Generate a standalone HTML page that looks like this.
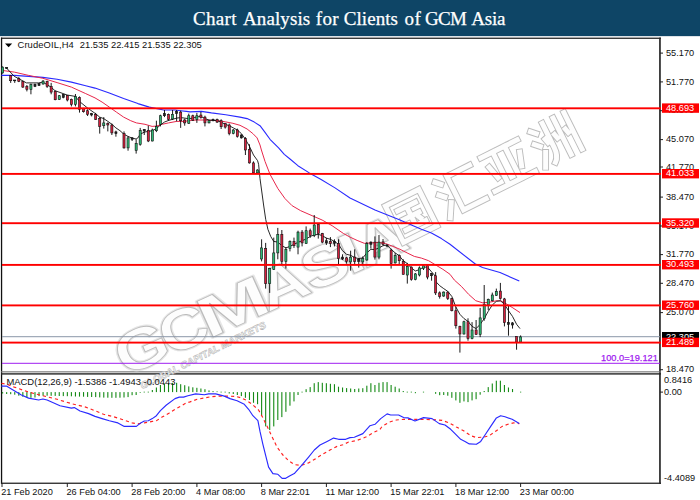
<!DOCTYPE html>
<html><head><meta charset="utf-8"><title>Chart Analysis for Clients of GCM Asia</title>
<style>
html,body{margin:0;padding:0;background:#fff;}
body{width:700px;height:500px;overflow:hidden;position:relative;font-family:"Liberation Sans",sans-serif;}
#hdr{position:absolute;left:0;top:0;width:700px;height:36px;background:#0e4566;color:#fff;font-family:"Liberation Serif",serif;font-size:19px;white-space:nowrap;line-height:38px;-webkit-text-stroke:0.25px #fff;}
svg{position:absolute;left:0;top:0;}
.ax{font-family:"Liberation Sans",sans-serif;font-size:9.2px;}
</style></head><body>
<div id="hdr"><span style="position:absolute;top:0;left:192.9px;letter-spacing:0.35px">Chart</span><span style="position:absolute;top:0;left:243.0px;letter-spacing:0.10px">Analysis</span><span style="position:absolute;top:0;left:315.8px;letter-spacing:0.37px">for</span><span style="position:absolute;top:0;left:343.7px;letter-spacing:0.08px">Clients</span><span style="position:absolute;top:0;left:404.5px;letter-spacing:0.60px">of</span><span style="position:absolute;top:0;left:424.9px;letter-spacing:-0.70px">GCM</span><span style="position:absolute;top:0;left:471.3px;letter-spacing:-0.20px">Asia</span></div>
<svg width="700" height="500" viewBox="0 0 700 500">
<!-- frame -->
<rect x="0" y="36" width="700" height="0.8" fill="#d5dde3"/>
<rect x="1" y="37.6" width="660" height="1.3" fill="#262626"/>
<rect x="0.9" y="37.6" width="1.3" height="446.3" fill="#111"/>
<rect x="659.1" y="37.6" width="1.7" height="446.3" fill="#2a2a2a"/>
<rect x="1" y="371.3" width="660" height="1.1" fill="#747474"/>
<rect x="1" y="373.2" width="660" height="1.4" fill="#262626"/>
<rect x="1" y="482.6" width="660" height="1.3" fill="#262626"/>
<!-- watermark -->
<g id="wm" font-family="Liberation Sans, sans-serif" font-weight="bold">
<g transform="translate(123,377.8) rotate(-24.3)">
<text transform="translate(5.0,0) scale(1.213,1)" x="-2.28" y="0" font-size="57" fill="none" stroke="#e6e6e6" stroke-width="3" stroke-linejoin="round">G</text>
<text transform="translate(53.5,0) scale(1.174,1)" x="-2.28" y="0" font-size="57" fill="none" stroke="#e6e6e6" stroke-width="3" stroke-linejoin="round">C</text>
<text transform="translate(99.0,0) scale(1.529,1)" x="-3.99" y="0" font-size="57" fill="none" stroke="#e6e6e6" stroke-width="3" stroke-linejoin="round">M</text>
<text transform="translate(161.0,0) scale(1.223,1)" x="-1.71" y="0" font-size="57" fill="none" stroke="#e6e6e6" stroke-width="3" stroke-linejoin="round">A</text>
<text transform="translate(209.0,0) scale(1.228,1)" x="-1.71" y="0" font-size="57" fill="none" stroke="#e6e6e6" stroke-width="3" stroke-linejoin="round">S</text>
<text transform="translate(254.0,0) scale(1.316,1)" x="-3.99" y="0" font-size="57" fill="none" stroke="#e6e6e6" stroke-width="3" stroke-linejoin="round">I</text>
<text transform="translate(268.0,0) scale(1.249,1)" x="-1.71" y="0" font-size="57" fill="none" stroke="#e6e6e6" stroke-width="3" stroke-linejoin="round">A</text>
<text transform="translate(5.0,0) scale(1.213,1)" x="-2.28" y="0" font-size="57" fill="#fdfdfd" stroke="#bcbcbc" stroke-width="0.85" stroke-linejoin="round">G</text>
<text transform="translate(53.5,0) scale(1.174,1)" x="-2.28" y="0" font-size="57" fill="#fdfdfd" stroke="#bcbcbc" stroke-width="0.85" stroke-linejoin="round">C</text>
<text transform="translate(99.0,0) scale(1.529,1)" x="-3.99" y="0" font-size="57" fill="#fdfdfd" stroke="#bcbcbc" stroke-width="0.85" stroke-linejoin="round">M</text>
<text transform="translate(161.0,0) scale(1.223,1)" x="-1.71" y="0" font-size="57" fill="#fdfdfd" stroke="#bcbcbc" stroke-width="0.85" stroke-linejoin="round">A</text>
<text transform="translate(209.0,0) scale(1.228,1)" x="-1.71" y="0" font-size="57" fill="#fdfdfd" stroke="#bcbcbc" stroke-width="0.85" stroke-linejoin="round">S</text>
<text transform="translate(254.0,0) scale(1.316,1)" x="-3.99" y="0" font-size="57" fill="#fdfdfd" stroke="#bcbcbc" stroke-width="0.85" stroke-linejoin="round">I</text>
<text transform="translate(268.0,0) scale(1.249,1)" x="-1.71" y="0" font-size="57" fill="#fdfdfd" stroke="#bcbcbc" stroke-width="0.85" stroke-linejoin="round">A</text>
</g>
<g transform="translate(123,377.8) rotate(-26.5)">
<text x="14.5" y="19" font-size="9.8" textLength="139" lengthAdjust="spacingAndGlyphs" fill="#fff" stroke="#b4b4b4" stroke-width="0.55" transform="skewX(-8)">GLOBAL CAPITAL MARKETS</text>
<g id="cjk" fill="none" stroke-linecap="square" stroke-linejoin="miter">
<g stroke="#bcbcbc" stroke-width="6.2"><g transform="translate(307,3) scale(1.1)"><path d="M4,-36 H38 V1 H4 Z M12,-27 H30 M13,-17.5 H29 M11,-8 H31 M21,-27 V-8 M27,-14 L28,-12"/></g>
<g transform="translate(361,1.7) scale(1.1)"><path d="M5,-34 L9,-30 M3,-22 L7,-18 M3,1 L10,-11 M17,-34 H40 M17,-34 V0 H40"/></g>
<g transform="translate(415,0.3) scale(1.1)"><path d="M3,-34 H40 M15,-34 V-1 M27,-34 V-1 M6,-23 L9,-11 M37,-23 L33,-11 M1,-1 H42"/></g>
<g transform="translate(470,-1) scale(1.1)"><path d="M4,-34 L8,-30 M2,-22 L6,-18 M2,1 L8,-11 M17,-36 V-12 Q17,-3 12,1 M28,-36 V1 M39,-36 V1 M13,-22 L14,-18 M22.5,-22 L23.5,-18 M33.5,-22 L34.5,-18"/></g></g>
<g stroke="#fdfdfd" stroke-width="4.5"><g transform="translate(307,3) scale(1.1)"><path d="M4,-36 H38 V1 H4 Z M12,-27 H30 M13,-17.5 H29 M11,-8 H31 M21,-27 V-8 M27,-14 L28,-12"/></g>
<g transform="translate(361,1.7) scale(1.1)"><path d="M5,-34 L9,-30 M3,-22 L7,-18 M3,1 L10,-11 M17,-34 H40 M17,-34 V0 H40"/></g>
<g transform="translate(415,0.3) scale(1.1)"><path d="M3,-34 H40 M15,-34 V-1 M27,-34 V-1 M6,-23 L9,-11 M37,-23 L33,-11 M1,-1 H42"/></g>
<g transform="translate(470,-1) scale(1.1)"><path d="M4,-34 L8,-30 M2,-22 L6,-18 M2,1 L8,-11 M17,-36 V-12 Q17,-3 12,1 M28,-36 V1 M39,-36 V1 M13,-22 L14,-18 M22.5,-22 L23.5,-18 M33.5,-22 L34.5,-18"/></g></g>
</g>
</g>
</g>
<!-- price line -->
<rect x="2" y="336.2" width="658" height="1" fill="#8a97a8"/>
<!-- fib -->
<rect x="2" y="362.8" width="658" height="1" fill="#a020f0"/>
<text x="601" y="361.3" class="ax" fill="#a020f0" stroke="#a020f0" stroke-width="0.25" style="font-size:9.25px">100.0=19.121</text>
<!-- MAs -->
<polyline points="1.4,75.4 14.3,75.4 28.6,76.4 42.9,77.4 57.1,79.3 71.4,82.1 85.7,85.7 95.0,88.1 109.3,92.9 123.6,98.6 137.9,103.6 149.3,107.1 163.6,110.0 175.0,110.0 180.7,110.7 186.4,111.4 190.0,111.9 201.4,111.4 211.4,112.9 225.7,114.7 240.0,117.1 247.1,118.6 254.3,122.1 260.0,125.7 264.3,131.4 270.0,139.3 278.6,147.9 284.3,154.3 290.0,159.0 297.9,165.7 309.3,172.9 320.7,179.3 335.0,187.9 350.0,198.0 375.0,210.0 400.0,220.0 411.4,225.0 421.4,229.3 431.4,232.9 441.4,238.6 450.0,244.3 475.0,263.8 482.5,267.5 500.0,272.5 519.3,281.1" fill="none" stroke="#2a2aff" stroke-width="1.1" stroke-linejoin="round"/>
<polyline points="1.4,70.3 14.3,72.1 28.6,75.4 42.9,78.3 57.1,82.6 71.4,87.1 85.7,93.6 95.0,97.9 102.1,102.1 109.3,107.1 116.4,112.1 123.6,117.1 130.7,120.7 136.4,122.9 145.0,124.3 152.1,126.4 156.4,126.1 162.1,124.3 168.6,122.9 176.6,121.4 184.7,121.4 190.0,120.4 197.1,120.0 204.3,120.0 211.4,120.4 218.6,120.7 225.7,121.9 232.9,123.3 240.0,125.3 247.1,129.0 252.9,133.6 257.1,137.9 260.0,145.0 261.4,150.0 265.0,161.4 270.0,174.3 277.9,188.6 285.0,198.6 292.1,205.7 300.7,210.7 312.1,215.7 322.1,220.0 332.1,225.7 343.6,233.6 350.0,237.1 357.1,240.4 364.3,243.3 371.4,242.9 378.6,242.4 385.7,243.6 392.9,246.4 400.0,249.3 407.1,252.9 414.3,256.4 421.4,258.1 428.6,260.7 435.7,265.0 442.9,269.3 450.0,274.3 454.3,280.0 461.4,286.4 468.6,294.3 475.7,300.7 482.9,302.9 490.0,302.1 497.1,300.7 501.4,301.1 507.1,304.3 512.9,307.9 520.0,312.6" fill="none" stroke="#e8274b" stroke-width="1" stroke-linejoin="round"/>
<polyline points="6.4,67.9 14.3,76.4 18.6,78.6 26.4,82.9 38.6,82.9 42.9,82.1 51.0,87.1 55.0,90.7 67.1,95.0 75.3,96.4 79.4,101.4 87.4,107.9 95.4,113.6 99.7,117.1 103.7,118.6 107.9,121.4 111.9,124.3 115.9,127.9 120.0,130.7 124.0,134.3 128.0,136.4 132.1,138.1 136.1,139.0 137.9,137.9 140.1,134.3 144.3,132.1 148.3,131.4 152.3,130.7 156.4,128.6 160.4,125.0 164.4,122.1 168.6,120.4 172.6,119.3 176.6,118.1 180.7,117.6 184.7,118.1 188.7,118.7 192.9,118.1 196.9,116.9 200.9,116.4 205.0,118.6 209.0,120.0 217.1,120.7 221.1,122.1 225.2,124.3 229.2,125.7 233.3,127.9 237.3,130.0 241.4,133.6 245.4,139.3 249.5,146.4 253.5,155.0 257.6,160.7 258.6,164.3 260.0,178.6 263.6,205.0 265.7,219.3 267.9,229.3 270.7,236.4 273.7,241.4 277.8,242.1 281.8,245.7 285.9,247.9 289.9,246.4 294.0,244.3 298.0,242.4 302.1,240.7 306.1,239.0 310.2,236.4 314.2,235.0 318.3,234.3 322.3,235.7 326.4,238.1 330.4,239.3 334.4,241.4 338.5,244.3 342.5,250.7 346.6,254.3 350.6,255.3 354.7,257.6 358.7,258.6 362.8,257.9 366.8,252.9 370.9,249.3 374.9,249.6 379.0,247.9 383.0,245.7 386.9,245.0 391.1,249.3 395.2,252.9 399.2,255.7 403.3,260.7 407.3,263.6 411.3,267.9 415.4,271.0 419.4,269.6 423.5,267.1 427.5,267.1 431.6,271.9 435.6,276.4 435.6,281.4 439.7,285.7 443.7,288.6 447.8,291.4 451.8,296.4 455.9,307.1 459.9,314.3 464.0,318.6 468.0,321.4 472.1,326.4 476.1,328.6 480.2,324.3 484.2,318.6 488.2,311.4 492.3,305.0 496.3,301.4 500.4,300.7 504.4,304.3 508.5,310.7 512.5,316.4 516.6,324.3 520.0,328.6" fill="none" stroke="#111" stroke-width="0.9" stroke-linejoin="round"/>
<!-- candles -->
<line x1="2.60" x2="2.60" y1="66.4" y2="73.6" stroke="#000" stroke-width="0.9"/>
<rect x="1.55" y="67.1" width="2.1" height="5.8" fill="#2db874" stroke="#111" stroke-width="0.6"/>
<line x1="6.65" x2="6.65" y1="67.2" y2="68.8" stroke="#000" stroke-width="0.9"/>
<rect x="5.60" y="67.6" width="2.1" height="0.8" fill="#222" stroke="#111" stroke-width="0.6"/>
<line x1="10.69" x2="10.69" y1="75.0" y2="82.9" stroke="#000" stroke-width="0.9"/>
<rect x="9.64" y="75.7" width="2.1" height="5.0" fill="#d41f3d" stroke="#111" stroke-width="0.6"/>
<line x1="14.74" x2="14.74" y1="80.0" y2="82.9" stroke="#000" stroke-width="0.9"/>
<rect x="13.69" y="80.0" width="2.1" height="0.8" fill="#222" stroke="#111" stroke-width="0.6"/>
<line x1="18.79" x2="18.79" y1="77.1" y2="82.1" stroke="#000" stroke-width="0.9"/>
<rect x="17.74" y="78.6" width="2.1" height="2.8" fill="#d41f3d" stroke="#111" stroke-width="0.6"/>
<line x1="22.84" x2="22.84" y1="80.7" y2="87.9" stroke="#000" stroke-width="0.9"/>
<rect x="21.79" y="81.4" width="2.1" height="5.7" fill="#d41f3d" stroke="#111" stroke-width="0.6"/>
<line x1="26.88" x2="26.88" y1="85.0" y2="91.4" stroke="#000" stroke-width="0.9"/>
<rect x="25.83" y="86.4" width="2.1" height="2.9" fill="#d41f3d" stroke="#111" stroke-width="0.6"/>
<line x1="30.93" x2="30.93" y1="83.6" y2="94.3" stroke="#000" stroke-width="0.9"/>
<rect x="29.88" y="84.3" width="2.1" height="5.0" fill="#2db874" stroke="#111" stroke-width="0.6"/>
<line x1="34.98" x2="34.98" y1="83.6" y2="87.1" stroke="#000" stroke-width="0.9"/>
<rect x="33.93" y="84.3" width="2.1" height="2.1" fill="#222" stroke="#111" stroke-width="0.6"/>
<line x1="39.02" x2="39.02" y1="83.0" y2="86.0" stroke="#000" stroke-width="0.9"/>
<rect x="37.97" y="83.6" width="2.1" height="1.8" fill="#222" stroke="#111" stroke-width="0.6"/>
<line x1="43.07" x2="43.07" y1="80.0" y2="84.6" stroke="#000" stroke-width="0.9"/>
<rect x="42.02" y="81.1" width="2.1" height="2.9" fill="#2db874" stroke="#111" stroke-width="0.6"/>
<line x1="47.12" x2="47.12" y1="80.7" y2="87.9" stroke="#000" stroke-width="0.9"/>
<rect x="46.07" y="81.4" width="2.1" height="5.0" fill="#d41f3d" stroke="#111" stroke-width="0.6"/>
<line x1="51.16" x2="51.16" y1="82.9" y2="94.3" stroke="#000" stroke-width="0.9"/>
<rect x="50.11" y="86.4" width="2.1" height="5.7" fill="#d41f3d" stroke="#111" stroke-width="0.6"/>
<line x1="55.21" x2="55.21" y1="90.7" y2="100.3" stroke="#000" stroke-width="0.9"/>
<rect x="54.16" y="91.4" width="2.1" height="8.3" fill="#d41f3d" stroke="#111" stroke-width="0.6"/>
<line x1="59.26" x2="59.26" y1="95.0" y2="100.0" stroke="#000" stroke-width="0.9"/>
<rect x="58.21" y="95.7" width="2.1" height="3.6" fill="#2db874" stroke="#111" stroke-width="0.6"/>
<line x1="63.30" x2="63.30" y1="94.0" y2="98.3" stroke="#000" stroke-width="0.9"/>
<rect x="62.26" y="94.3" width="2.1" height="3.1" fill="#222" stroke="#111" stroke-width="0.6"/>
<line x1="67.35" x2="67.35" y1="95.0" y2="101.4" stroke="#000" stroke-width="0.9"/>
<rect x="66.30" y="95.4" width="2.1" height="4.6" fill="#d41f3d" stroke="#111" stroke-width="0.6"/>
<line x1="71.40" x2="71.40" y1="98.6" y2="106.4" stroke="#000" stroke-width="0.9"/>
<rect x="70.35" y="99.3" width="2.1" height="5.0" fill="#d41f3d" stroke="#111" stroke-width="0.6"/>
<line x1="75.45" x2="75.45" y1="94.0" y2="106.4" stroke="#000" stroke-width="0.9"/>
<rect x="74.40" y="96.4" width="2.1" height="7.9" fill="#2db874" stroke="#111" stroke-width="0.6"/>
<line x1="79.49" x2="79.49" y1="96.4" y2="112.6" stroke="#000" stroke-width="0.9"/>
<rect x="78.44" y="97.4" width="2.1" height="11.9" fill="#d41f3d" stroke="#111" stroke-width="0.6"/>
<line x1="83.54" x2="83.54" y1="107.9" y2="112.6" stroke="#000" stroke-width="0.9"/>
<rect x="82.49" y="108.6" width="2.1" height="3.1" fill="#d41f3d" stroke="#111" stroke-width="0.6"/>
<line x1="87.59" x2="87.59" y1="109.3" y2="116.0" stroke="#000" stroke-width="0.9"/>
<rect x="86.54" y="110.7" width="2.1" height="3.6" fill="#d41f3d" stroke="#111" stroke-width="0.6"/>
<line x1="91.63" x2="91.63" y1="112.9" y2="116.4" stroke="#000" stroke-width="0.9"/>
<rect x="90.58" y="113.6" width="2.1" height="1.4" fill="#222" stroke="#111" stroke-width="0.6"/>
<line x1="95.68" x2="95.68" y1="112.9" y2="120.0" stroke="#000" stroke-width="0.9"/>
<rect x="94.63" y="114.3" width="2.1" height="5.0" fill="#d41f3d" stroke="#111" stroke-width="0.6"/>
<line x1="99.73" x2="99.73" y1="117.1" y2="133.6" stroke="#000" stroke-width="0.9"/>
<rect x="98.68" y="118.6" width="2.1" height="7.8" fill="#d41f3d" stroke="#111" stroke-width="0.6"/>
<line x1="103.77" x2="103.77" y1="117.1" y2="128.6" stroke="#000" stroke-width="0.9"/>
<rect x="102.72" y="122.9" width="2.1" height="2.8" fill="#2db874" stroke="#111" stroke-width="0.6"/>
<line x1="107.82" x2="107.82" y1="122.4" y2="131.4" stroke="#000" stroke-width="0.9"/>
<rect x="106.77" y="123.3" width="2.1" height="1.7" fill="#d41f3d" stroke="#111" stroke-width="0.6"/>
<line x1="111.87" x2="111.87" y1="123.6" y2="135.0" stroke="#000" stroke-width="0.9"/>
<rect x="110.82" y="125.0" width="2.1" height="7.9" fill="#d41f3d" stroke="#111" stroke-width="0.6"/>
<line x1="115.92" x2="115.92" y1="130.7" y2="136.7" stroke="#000" stroke-width="0.9"/>
<rect x="114.87" y="131.9" width="2.1" height="1.7" fill="#222" stroke="#111" stroke-width="0.6"/>
<line x1="124.01" x2="124.01" y1="131.4" y2="148.6" stroke="#000" stroke-width="0.9"/>
<rect x="122.96" y="133.6" width="2.1" height="14.3" fill="#d41f3d" stroke="#111" stroke-width="0.6"/>
<line x1="128.06" x2="128.06" y1="136.4" y2="150.7" stroke="#000" stroke-width="0.9"/>
<rect x="127.01" y="137.9" width="2.1" height="10.0" fill="#2db874" stroke="#111" stroke-width="0.6"/>
<line x1="132.10" x2="132.10" y1="137.1" y2="141.0" stroke="#000" stroke-width="0.9"/>
<rect x="131.05" y="137.9" width="2.1" height="1.4" fill="#222" stroke="#111" stroke-width="0.6"/>
<line x1="136.15" x2="136.15" y1="139.3" y2="153.6" stroke="#000" stroke-width="0.9"/>
<rect x="135.10" y="143.3" width="2.1" height="7.1" fill="#2db874" stroke="#111" stroke-width="0.6"/>
<line x1="140.20" x2="140.20" y1="127.9" y2="145.7" stroke="#000" stroke-width="0.9"/>
<rect x="139.15" y="130.4" width="2.1" height="13.9" fill="#2db874" stroke="#111" stroke-width="0.6"/>
<line x1="144.24" x2="144.24" y1="129.0" y2="135.0" stroke="#000" stroke-width="0.9"/>
<rect x="143.19" y="129.3" width="2.1" height="1.7" fill="#222" stroke="#111" stroke-width="0.6"/>
<line x1="148.29" x2="148.29" y1="125.7" y2="142.1" stroke="#000" stroke-width="0.9"/>
<rect x="147.24" y="130.4" width="2.1" height="10.6" fill="#d41f3d" stroke="#111" stroke-width="0.6"/>
<line x1="152.34" x2="152.34" y1="128.6" y2="141.4" stroke="#000" stroke-width="0.9"/>
<rect x="151.29" y="130.0" width="2.1" height="11.0" fill="#2db874" stroke="#111" stroke-width="0.6"/>
<line x1="156.39" x2="156.39" y1="120.7" y2="132.1" stroke="#000" stroke-width="0.9"/>
<rect x="155.34" y="126.4" width="2.1" height="4.3" fill="#2db874" stroke="#111" stroke-width="0.6"/>
<line x1="160.43" x2="160.43" y1="114.7" y2="126.4" stroke="#000" stroke-width="0.9"/>
<rect x="159.38" y="115.7" width="2.1" height="8.6" fill="#2db874" stroke="#111" stroke-width="0.6"/>
<line x1="164.48" x2="164.48" y1="110.0" y2="117.1" stroke="#000" stroke-width="0.9"/>
<rect x="163.43" y="113.6" width="2.1" height="2.1" fill="#222" stroke="#111" stroke-width="0.6"/>
<line x1="168.53" x2="168.53" y1="113.6" y2="120.7" stroke="#000" stroke-width="0.9"/>
<rect x="167.48" y="114.3" width="2.1" height="5.0" fill="#d41f3d" stroke="#111" stroke-width="0.6"/>
<line x1="172.57" x2="172.57" y1="110.0" y2="120.0" stroke="#000" stroke-width="0.9"/>
<rect x="171.52" y="114.3" width="2.1" height="4.7" fill="#2db874" stroke="#111" stroke-width="0.6"/>
<line x1="176.62" x2="176.62" y1="110.0" y2="121.4" stroke="#000" stroke-width="0.9"/>
<rect x="175.57" y="111.4" width="2.1" height="2.2" fill="#222" stroke="#111" stroke-width="0.6"/>
<line x1="180.67" x2="180.67" y1="110.7" y2="127.9" stroke="#000" stroke-width="0.9"/>
<rect x="179.62" y="112.1" width="2.1" height="8.6" fill="#d41f3d" stroke="#111" stroke-width="0.6"/>
<line x1="184.71" x2="184.71" y1="118.6" y2="125.7" stroke="#000" stroke-width="0.9"/>
<rect x="183.66" y="120.0" width="2.1" height="2.9" fill="#d41f3d" stroke="#111" stroke-width="0.6"/>
<line x1="188.76" x2="188.76" y1="113.6" y2="123.9" stroke="#000" stroke-width="0.9"/>
<rect x="187.71" y="115.7" width="2.1" height="7.6" fill="#2db874" stroke="#111" stroke-width="0.6"/>
<line x1="192.81" x2="192.81" y1="114.7" y2="121.0" stroke="#000" stroke-width="0.9"/>
<rect x="191.76" y="115.7" width="2.1" height="4.7" fill="#d41f3d" stroke="#111" stroke-width="0.6"/>
<line x1="196.86" x2="196.86" y1="112.9" y2="122.9" stroke="#000" stroke-width="0.9"/>
<rect x="195.81" y="115.7" width="2.1" height="3.6" fill="#2db874" stroke="#111" stroke-width="0.6"/>
<line x1="200.90" x2="200.90" y1="111.9" y2="118.6" stroke="#000" stroke-width="0.9"/>
<rect x="199.85" y="115.0" width="2.1" height="2.6" fill="#d41f3d" stroke="#111" stroke-width="0.6"/>
<line x1="204.95" x2="204.95" y1="115.7" y2="126.4" stroke="#000" stroke-width="0.9"/>
<rect x="203.90" y="117.1" width="2.1" height="5.8" fill="#d41f3d" stroke="#111" stroke-width="0.6"/>
<line x1="209.00" x2="209.00" y1="120.4" y2="123.3" stroke="#000" stroke-width="0.9"/>
<rect x="207.95" y="120.7" width="2.1" height="2.2" fill="#2db874" stroke="#111" stroke-width="0.6"/>
<line x1="213.04" x2="213.04" y1="118.6" y2="121.4" stroke="#000" stroke-width="0.9"/>
<rect x="211.99" y="119.3" width="2.1" height="1.4" fill="#222" stroke="#111" stroke-width="0.6"/>
<line x1="217.09" x2="217.09" y1="118.6" y2="122.9" stroke="#000" stroke-width="0.9"/>
<rect x="216.04" y="119.6" width="2.1" height="2.5" fill="#d41f3d" stroke="#111" stroke-width="0.6"/>
<line x1="221.14" x2="221.14" y1="119.3" y2="129.0" stroke="#000" stroke-width="0.9"/>
<rect x="220.09" y="120.7" width="2.1" height="6.0" fill="#d41f3d" stroke="#111" stroke-width="0.6"/>
<line x1="225.18" x2="225.18" y1="122.9" y2="128.6" stroke="#000" stroke-width="0.9"/>
<rect x="224.13" y="123.6" width="2.1" height="3.5" fill="#d41f3d" stroke="#111" stroke-width="0.6"/>
<line x1="229.23" x2="229.23" y1="123.6" y2="135.3" stroke="#000" stroke-width="0.9"/>
<rect x="228.18" y="125.0" width="2.1" height="8.6" fill="#d41f3d" stroke="#111" stroke-width="0.6"/>
<line x1="233.28" x2="233.28" y1="129.0" y2="134.3" stroke="#000" stroke-width="0.9"/>
<rect x="232.23" y="130.0" width="2.1" height="3.3" fill="#2db874" stroke="#111" stroke-width="0.6"/>
<line x1="237.33" x2="237.33" y1="128.6" y2="137.6" stroke="#000" stroke-width="0.9"/>
<rect x="236.28" y="130.0" width="2.1" height="6.4" fill="#d41f3d" stroke="#111" stroke-width="0.6"/>
<line x1="241.37" x2="241.37" y1="134.3" y2="138.6" stroke="#000" stroke-width="0.9"/>
<rect x="240.32" y="135.0" width="2.1" height="2.9" fill="#222" stroke="#111" stroke-width="0.6"/>
<line x1="245.42" x2="245.42" y1="137.1" y2="155.0" stroke="#000" stroke-width="0.9"/>
<rect x="244.37" y="138.6" width="2.1" height="11.4" fill="#d41f3d" stroke="#111" stroke-width="0.6"/>
<line x1="249.47" x2="249.47" y1="144.3" y2="163.6" stroke="#000" stroke-width="0.9"/>
<rect x="248.42" y="149.3" width="2.1" height="13.6" fill="#d41f3d" stroke="#111" stroke-width="0.6"/>
<line x1="253.51" x2="253.51" y1="161.4" y2="173.6" stroke="#000" stroke-width="0.9"/>
<rect x="252.46" y="162.9" width="2.1" height="10.0" fill="#d41f3d" stroke="#111" stroke-width="0.6"/>
<line x1="257.56" x2="257.56" y1="169.3" y2="173.6" stroke="#000" stroke-width="0.9"/>
<rect x="256.51" y="170.0" width="2.1" height="2.9" fill="#2db874" stroke="#111" stroke-width="0.6"/>
<line x1="261.61" x2="261.61" y1="239.3" y2="261.4" stroke="#000" stroke-width="0.9"/>
<rect x="260.56" y="247.9" width="2.1" height="11.1" fill="#2db874" stroke="#111" stroke-width="0.6"/>
<line x1="265.66" x2="265.66" y1="242.9" y2="288.6" stroke="#000" stroke-width="0.9"/>
<rect x="264.61" y="248.6" width="2.1" height="35.0" fill="#d41f3d" stroke="#111" stroke-width="0.6"/>
<line x1="269.70" x2="269.70" y1="267.9" y2="292.9" stroke="#000" stroke-width="0.9"/>
<rect x="268.65" y="268.6" width="2.1" height="15.0" fill="#2db874" stroke="#111" stroke-width="0.6"/>
<line x1="273.75" x2="273.75" y1="237.6" y2="270.0" stroke="#000" stroke-width="0.9"/>
<rect x="272.70" y="252.9" width="2.1" height="16.4" fill="#2db874" stroke="#111" stroke-width="0.6"/>
<line x1="277.80" x2="277.80" y1="227.9" y2="259.3" stroke="#000" stroke-width="0.9"/>
<rect x="276.75" y="234.3" width="2.1" height="18.6" fill="#2db874" stroke="#111" stroke-width="0.6"/>
<line x1="281.84" x2="281.84" y1="230.0" y2="264.3" stroke="#000" stroke-width="0.9"/>
<rect x="280.79" y="234.3" width="2.1" height="27.1" fill="#d41f3d" stroke="#111" stroke-width="0.6"/>
<line x1="285.89" x2="285.89" y1="247.1" y2="268.6" stroke="#000" stroke-width="0.9"/>
<rect x="284.84" y="249.3" width="2.1" height="12.1" fill="#2db874" stroke="#111" stroke-width="0.6"/>
<line x1="289.94" x2="289.94" y1="240.4" y2="251.4" stroke="#000" stroke-width="0.9"/>
<rect x="288.89" y="241.4" width="2.1" height="7.2" fill="#2db874" stroke="#111" stroke-width="0.6"/>
<line x1="293.98" x2="293.98" y1="237.6" y2="247.9" stroke="#000" stroke-width="0.9"/>
<rect x="292.93" y="241.4" width="2.1" height="4.3" fill="#d41f3d" stroke="#111" stroke-width="0.6"/>
<line x1="298.03" x2="298.03" y1="230.7" y2="254.3" stroke="#000" stroke-width="0.9"/>
<rect x="296.98" y="232.1" width="2.1" height="15.0" fill="#2db874" stroke="#111" stroke-width="0.6"/>
<line x1="302.08" x2="302.08" y1="230.0" y2="246.4" stroke="#000" stroke-width="0.9"/>
<rect x="301.03" y="232.1" width="2.1" height="10.8" fill="#d41f3d" stroke="#111" stroke-width="0.6"/>
<line x1="306.12" x2="306.12" y1="226.4" y2="243.9" stroke="#000" stroke-width="0.9"/>
<rect x="305.07" y="230.7" width="2.1" height="12.9" fill="#2db874" stroke="#111" stroke-width="0.6"/>
<line x1="310.17" x2="310.17" y1="228.6" y2="237.9" stroke="#000" stroke-width="0.9"/>
<rect x="309.12" y="230.7" width="2.1" height="4.6" fill="#d41f3d" stroke="#111" stroke-width="0.6"/>
<line x1="314.22" x2="314.22" y1="215.0" y2="237.1" stroke="#000" stroke-width="0.9"/>
<rect x="313.17" y="225.0" width="2.1" height="10.3" fill="#2db874" stroke="#111" stroke-width="0.6"/>
<line x1="318.27" x2="318.27" y1="223.6" y2="238.6" stroke="#000" stroke-width="0.9"/>
<rect x="317.22" y="224.3" width="2.1" height="9.3" fill="#d41f3d" stroke="#111" stroke-width="0.6"/>
<line x1="322.31" x2="322.31" y1="232.9" y2="243.3" stroke="#000" stroke-width="0.9"/>
<rect x="321.26" y="233.6" width="2.1" height="8.5" fill="#d41f3d" stroke="#111" stroke-width="0.6"/>
<line x1="326.36" x2="326.36" y1="237.9" y2="245.0" stroke="#000" stroke-width="0.9"/>
<rect x="325.31" y="240.7" width="2.1" height="2.2" fill="#222" stroke="#111" stroke-width="0.6"/>
<line x1="330.41" x2="330.41" y1="237.1" y2="247.1" stroke="#000" stroke-width="0.9"/>
<rect x="329.36" y="241.4" width="2.1" height="2.2" fill="#d41f3d" stroke="#111" stroke-width="0.6"/>
<line x1="334.45" x2="334.45" y1="239.3" y2="246.4" stroke="#000" stroke-width="0.9"/>
<rect x="333.40" y="241.4" width="2.1" height="1.9" fill="#222" stroke="#111" stroke-width="0.6"/>
<line x1="338.50" x2="338.50" y1="239.3" y2="264.3" stroke="#000" stroke-width="0.9"/>
<rect x="337.45" y="243.3" width="2.1" height="15.3" fill="#d41f3d" stroke="#111" stroke-width="0.6"/>
<line x1="342.55" x2="342.55" y1="254.3" y2="260.0" stroke="#000" stroke-width="0.9"/>
<rect x="341.50" y="257.1" width="2.1" height="1.9" fill="#222" stroke="#111" stroke-width="0.6"/>
<line x1="346.59" x2="346.59" y1="257.1" y2="263.6" stroke="#000" stroke-width="0.9"/>
<rect x="345.54" y="257.9" width="2.1" height="3.5" fill="#d41f3d" stroke="#111" stroke-width="0.6"/>
<line x1="350.64" x2="350.64" y1="250.7" y2="270.7" stroke="#000" stroke-width="0.9"/>
<rect x="349.59" y="257.1" width="2.1" height="4.8" fill="#2db874" stroke="#111" stroke-width="0.6"/>
<line x1="354.69" x2="354.69" y1="249.3" y2="265.0" stroke="#000" stroke-width="0.9"/>
<rect x="353.64" y="257.1" width="2.1" height="4.3" fill="#d41f3d" stroke="#111" stroke-width="0.6"/>
<line x1="358.74" x2="358.74" y1="258.1" y2="267.6" stroke="#000" stroke-width="0.9"/>
<rect x="357.69" y="259.3" width="2.1" height="2.1" fill="#222" stroke="#111" stroke-width="0.6"/>
<line x1="362.78" x2="362.78" y1="256.4" y2="264.3" stroke="#000" stroke-width="0.9"/>
<rect x="361.73" y="258.6" width="2.1" height="3.3" fill="#2db874" stroke="#111" stroke-width="0.6"/>
<line x1="366.83" x2="366.83" y1="242.1" y2="260.7" stroke="#000" stroke-width="0.9"/>
<rect x="365.78" y="243.6" width="2.1" height="16.4" fill="#2db874" stroke="#111" stroke-width="0.6"/>
<line x1="370.88" x2="370.88" y1="241.4" y2="248.6" stroke="#000" stroke-width="0.9"/>
<rect x="369.83" y="242.1" width="2.1" height="2.2" fill="#222" stroke="#111" stroke-width="0.6"/>
<line x1="374.92" x2="374.92" y1="236.4" y2="259.6" stroke="#000" stroke-width="0.9"/>
<rect x="373.87" y="242.1" width="2.1" height="15.0" fill="#d41f3d" stroke="#111" stroke-width="0.6"/>
<line x1="378.97" x2="378.97" y1="235.0" y2="259.3" stroke="#000" stroke-width="0.9"/>
<rect x="377.92" y="242.1" width="2.1" height="15.0" fill="#2db874" stroke="#111" stroke-width="0.6"/>
<line x1="383.02" x2="383.02" y1="239.0" y2="245.3" stroke="#000" stroke-width="0.9"/>
<rect x="381.97" y="241.9" width="2.1" height="2.4" fill="#d41f3d" stroke="#111" stroke-width="0.6"/>
<line x1="387.06" x2="387.06" y1="244.3" y2="247.0" stroke="#000" stroke-width="0.9"/>
<rect x="386.01" y="245.0" width="2.1" height="1.1" fill="#222" stroke="#111" stroke-width="0.6"/>
<line x1="391.11" x2="391.11" y1="248.6" y2="268.6" stroke="#000" stroke-width="0.9"/>
<rect x="390.06" y="250.0" width="2.1" height="13.6" fill="#d41f3d" stroke="#111" stroke-width="0.6"/>
<line x1="395.16" x2="395.16" y1="252.9" y2="263.6" stroke="#000" stroke-width="0.9"/>
<rect x="394.11" y="255.7" width="2.1" height="7.2" fill="#2db874" stroke="#111" stroke-width="0.6"/>
<line x1="399.21" x2="399.21" y1="254.3" y2="264.3" stroke="#000" stroke-width="0.9"/>
<rect x="398.16" y="255.7" width="2.1" height="5.0" fill="#d41f3d" stroke="#111" stroke-width="0.6"/>
<line x1="403.25" x2="403.25" y1="259.3" y2="274.7" stroke="#000" stroke-width="0.9"/>
<rect x="402.20" y="261.4" width="2.1" height="12.9" fill="#d41f3d" stroke="#111" stroke-width="0.6"/>
<line x1="407.30" x2="407.30" y1="262.9" y2="283.6" stroke="#000" stroke-width="0.9"/>
<rect x="406.25" y="266.4" width="2.1" height="8.6" fill="#2db874" stroke="#111" stroke-width="0.6"/>
<line x1="411.35" x2="411.35" y1="266.4" y2="280.7" stroke="#000" stroke-width="0.9"/>
<rect x="410.30" y="267.1" width="2.1" height="12.2" fill="#d41f3d" stroke="#111" stroke-width="0.6"/>
<line x1="415.39" x2="415.39" y1="273.0" y2="280.3" stroke="#000" stroke-width="0.9"/>
<rect x="414.34" y="273.9" width="2.1" height="5.7" fill="#2db874" stroke="#111" stroke-width="0.6"/>
<line x1="419.44" x2="419.44" y1="266.4" y2="276.4" stroke="#000" stroke-width="0.9"/>
<rect x="418.39" y="267.9" width="2.1" height="7.1" fill="#2db874" stroke="#111" stroke-width="0.6"/>
<line x1="423.49" x2="423.49" y1="265.1" y2="270.0" stroke="#000" stroke-width="0.9"/>
<rect x="422.44" y="265.7" width="2.1" height="2.9" fill="#2db874" stroke="#111" stroke-width="0.6"/>
<line x1="427.53" x2="427.53" y1="265.4" y2="279.3" stroke="#000" stroke-width="0.9"/>
<rect x="426.48" y="265.7" width="2.1" height="11.4" fill="#d41f3d" stroke="#111" stroke-width="0.6"/>
<line x1="431.58" x2="431.58" y1="272.9" y2="280.7" stroke="#000" stroke-width="0.9"/>
<rect x="430.53" y="273.6" width="2.1" height="2.1" fill="#222" stroke="#111" stroke-width="0.6"/>
<line x1="435.63" x2="435.63" y1="272.1" y2="295.0" stroke="#000" stroke-width="0.9"/>
<rect x="434.58" y="275.7" width="2.1" height="17.2" fill="#d41f3d" stroke="#111" stroke-width="0.6"/>
<line x1="439.68" x2="439.68" y1="291.4" y2="298.6" stroke="#000" stroke-width="0.9"/>
<rect x="438.63" y="292.9" width="2.1" height="3.5" fill="#d41f3d" stroke="#111" stroke-width="0.6"/>
<line x1="443.72" x2="443.72" y1="291.4" y2="296.9" stroke="#000" stroke-width="0.9"/>
<rect x="442.67" y="292.1" width="2.1" height="3.9" fill="#2db874" stroke="#111" stroke-width="0.6"/>
<line x1="447.77" x2="447.77" y1="291.4" y2="300.0" stroke="#000" stroke-width="0.9"/>
<rect x="446.72" y="292.1" width="2.1" height="6.5" fill="#d41f3d" stroke="#111" stroke-width="0.6"/>
<line x1="451.82" x2="451.82" y1="297.9" y2="311.4" stroke="#000" stroke-width="0.9"/>
<rect x="450.77" y="298.6" width="2.1" height="12.1" fill="#d41f3d" stroke="#111" stroke-width="0.6"/>
<line x1="455.86" x2="455.86" y1="307.1" y2="328.6" stroke="#000" stroke-width="0.9"/>
<rect x="454.81" y="310.7" width="2.1" height="15.0" fill="#d41f3d" stroke="#111" stroke-width="0.6"/>
<line x1="459.91" x2="459.91" y1="325.7" y2="352.6" stroke="#000" stroke-width="0.9"/>
<rect x="458.86" y="326.4" width="2.1" height="7.6" fill="#d41f3d" stroke="#111" stroke-width="0.6"/>
<line x1="463.96" x2="463.96" y1="320.7" y2="334.6" stroke="#000" stroke-width="0.9"/>
<rect x="462.91" y="321.7" width="2.1" height="12.3" fill="#2db874" stroke="#111" stroke-width="0.6"/>
<line x1="468.00" x2="468.00" y1="318.3" y2="340.7" stroke="#000" stroke-width="0.9"/>
<rect x="466.95" y="321.7" width="2.1" height="16.9" fill="#d41f3d" stroke="#111" stroke-width="0.6"/>
<line x1="472.05" x2="472.05" y1="322.1" y2="339.3" stroke="#000" stroke-width="0.9"/>
<rect x="471.00" y="330.0" width="2.1" height="8.6" fill="#2db874" stroke="#111" stroke-width="0.6"/>
<line x1="476.10" x2="476.10" y1="320.0" y2="335.0" stroke="#000" stroke-width="0.9"/>
<rect x="475.05" y="330.0" width="2.1" height="4.3" fill="#d41f3d" stroke="#111" stroke-width="0.6"/>
<line x1="480.15" x2="480.15" y1="307.9" y2="337.1" stroke="#000" stroke-width="0.9"/>
<rect x="479.10" y="317.9" width="2.1" height="16.4" fill="#2db874" stroke="#111" stroke-width="0.6"/>
<line x1="484.19" x2="484.19" y1="285.0" y2="320.7" stroke="#000" stroke-width="0.9"/>
<rect x="483.14" y="304.3" width="2.1" height="14.3" fill="#2db874" stroke="#111" stroke-width="0.6"/>
<line x1="488.24" x2="488.24" y1="298.6" y2="310.0" stroke="#000" stroke-width="0.9"/>
<rect x="487.19" y="299.3" width="2.1" height="5.7" fill="#2db874" stroke="#111" stroke-width="0.6"/>
<line x1="492.29" x2="492.29" y1="292.6" y2="301.4" stroke="#000" stroke-width="0.9"/>
<rect x="491.24" y="295.0" width="2.1" height="5.7" fill="#2db874" stroke="#111" stroke-width="0.6"/>
<line x1="496.33" x2="496.33" y1="288.6" y2="296.0" stroke="#000" stroke-width="0.9"/>
<rect x="495.28" y="291.4" width="2.1" height="4.0" fill="#2db874" stroke="#111" stroke-width="0.6"/>
<line x1="500.38" x2="500.38" y1="282.9" y2="299.7" stroke="#000" stroke-width="0.9"/>
<rect x="499.33" y="291.1" width="2.1" height="7.5" fill="#d41f3d" stroke="#111" stroke-width="0.6"/>
<line x1="504.43" x2="504.43" y1="297.9" y2="326.4" stroke="#000" stroke-width="0.9"/>
<rect x="503.38" y="298.9" width="2.1" height="23.7" fill="#d41f3d" stroke="#111" stroke-width="0.6"/>
<line x1="508.47" x2="508.47" y1="305.7" y2="335.7" stroke="#000" stroke-width="0.9"/>
<rect x="507.42" y="322.6" width="2.1" height="1.7" fill="#222" stroke="#111" stroke-width="0.6"/>
<line x1="512.52" x2="512.52" y1="322.1" y2="328.6" stroke="#000" stroke-width="0.9"/>
<rect x="511.47" y="322.9" width="2.1" height="2.1" fill="#222" stroke="#111" stroke-width="0.6"/>
<line x1="516.57" x2="516.57" y1="336.4" y2="349.7" stroke="#000" stroke-width="0.9"/>
<rect x="515.52" y="336.4" width="2.1" height="5.7" fill="#d41f3d" stroke="#111" stroke-width="0.6"/>
<line x1="520.62" x2="520.62" y1="335.4" y2="342.1" stroke="#000" stroke-width="0.9"/>
<rect x="519.57" y="336.9" width="2.1" height="5.2" fill="#2db874" stroke="#111" stroke-width="0.6"/>
<!-- hlines -->
<rect x="2" y="107.35" width="659" height="1.9" fill="#ff0000"/>
<rect x="2" y="172.95" width="659" height="1.9" fill="#ff0000"/>
<rect x="2" y="222.25" width="659" height="1.9" fill="#ff0000"/>
<rect x="2" y="263.95" width="659" height="1.9" fill="#ff0000"/>
<rect x="2" y="304.45" width="659" height="1.9" fill="#ff0000"/>
<rect x="2" y="341.65" width="659" height="1.9" fill="#ff0000"/>

<!-- macd -->
<rect x="2.05" y="392.1" width="1.1" height="1.4" fill="#158a15"/>
<rect x="6.10" y="392.1" width="1.1" height="1.9" fill="#158a15"/>
<rect x="10.14" y="392.1" width="1.1" height="2.1" fill="#158a15"/>
<rect x="14.19" y="392.1" width="1.1" height="2.6" fill="#158a15"/>
<rect x="18.24" y="392.1" width="1.1" height="3.6" fill="#158a15"/>
<rect x="22.29" y="392.1" width="1.1" height="4.6" fill="#158a15"/>
<rect x="26.33" y="392.1" width="1.1" height="5.4" fill="#158a15"/>
<rect x="30.38" y="392.1" width="1.1" height="5.7" fill="#158a15"/>
<rect x="34.43" y="392.1" width="1.1" height="5.4" fill="#158a15"/>
<rect x="38.47" y="392.1" width="1.1" height="4.0" fill="#158a15"/>
<rect x="42.52" y="392.1" width="1.1" height="3.6" fill="#158a15"/>
<rect x="46.57" y="392.1" width="1.1" height="3.6" fill="#158a15"/>
<rect x="50.61" y="392.1" width="1.1" height="3.7" fill="#158a15"/>
<rect x="54.66" y="392.1" width="1.1" height="3.8" fill="#158a15"/>
<rect x="58.71" y="392.1" width="1.1" height="3.9" fill="#158a15"/>
<rect x="62.76" y="392.1" width="1.1" height="4.0" fill="#158a15"/>
<rect x="66.80" y="392.1" width="1.1" height="4.1" fill="#158a15"/>
<rect x="70.85" y="392.1" width="1.1" height="4.2" fill="#158a15"/>
<rect x="74.90" y="392.1" width="1.1" height="4.4" fill="#158a15"/>
<rect x="78.94" y="392.1" width="1.1" height="4.5" fill="#158a15"/>
<rect x="82.99" y="392.1" width="1.1" height="4.6" fill="#158a15"/>
<rect x="87.04" y="392.1" width="1.1" height="4.8" fill="#158a15"/>
<rect x="91.08" y="392.1" width="1.1" height="4.9" fill="#158a15"/>
<rect x="95.13" y="392.1" width="1.1" height="5.0" fill="#158a15"/>
<rect x="99.18" y="392.1" width="1.1" height="5.3" fill="#158a15"/>
<rect x="103.22" y="392.1" width="1.1" height="5.5" fill="#158a15"/>
<rect x="107.27" y="392.1" width="1.1" height="5.6" fill="#158a15"/>
<rect x="111.32" y="392.1" width="1.1" height="5.7" fill="#158a15"/>
<rect x="115.37" y="392.1" width="1.1" height="5.7" fill="#158a15"/>
<rect x="119.41" y="392.1" width="1.1" height="5.6" fill="#158a15"/>
<rect x="123.46" y="392.1" width="1.1" height="5.4" fill="#158a15"/>
<rect x="127.51" y="392.1" width="1.1" height="5.0" fill="#158a15"/>
<rect x="131.55" y="392.1" width="1.1" height="3.1" fill="#158a15"/>
<rect x="135.60" y="392.1" width="1.1" height="2.9" fill="#158a15"/>
<rect x="139.65" y="392.1" width="1.1" height="0.7" fill="#158a15"/>
<rect x="143.64" y="391.6" width="1.2" height="1" fill="#1d8f1d" opacity="0.8"/>
<rect x="147.69" y="391.6" width="1.2" height="1" fill="#1d8f1d" opacity="0.8"/>
<rect x="151.79" y="390.0" width="1.1" height="2.1" fill="#158a15"/>
<rect x="155.84" y="387.5" width="1.1" height="4.6" fill="#158a15"/>
<rect x="159.88" y="385.0" width="1.1" height="7.1" fill="#158a15"/>
<rect x="163.93" y="383.8" width="1.1" height="8.3" fill="#158a15"/>
<rect x="167.98" y="383.2" width="1.1" height="8.9" fill="#158a15"/>
<rect x="172.02" y="382.8" width="1.1" height="9.3" fill="#158a15"/>
<rect x="176.07" y="382.8" width="1.1" height="9.3" fill="#158a15"/>
<rect x="180.12" y="384.2" width="1.1" height="7.9" fill="#158a15"/>
<rect x="184.16" y="385.2" width="1.1" height="6.9" fill="#158a15"/>
<rect x="188.21" y="386.4" width="1.1" height="5.7" fill="#158a15"/>
<rect x="192.26" y="387.3" width="1.1" height="4.8" fill="#158a15"/>
<rect x="196.31" y="387.8" width="1.1" height="4.3" fill="#158a15"/>
<rect x="200.35" y="388.5" width="1.1" height="3.6" fill="#158a15"/>
<rect x="204.40" y="389.2" width="1.1" height="2.9" fill="#158a15"/>
<rect x="208.45" y="390.4" width="1.1" height="1.7" fill="#158a15"/>
<rect x="212.49" y="391.1" width="1.1" height="1.0" fill="#158a15"/>
<rect x="216.54" y="391.4" width="1.1" height="0.7" fill="#158a15"/>
<rect x="220.54" y="391.6" width="1.2" height="1" fill="#1d8f1d" opacity="0.8"/>
<rect x="224.58" y="391.6" width="1.2" height="1" fill="#1d8f1d" opacity="0.8"/>
<rect x="228.68" y="392.1" width="1.1" height="1.4" fill="#158a15"/>
<rect x="232.73" y="392.1" width="1.1" height="1.9" fill="#158a15"/>
<rect x="236.78" y="392.1" width="1.1" height="2.9" fill="#158a15"/>
<rect x="240.82" y="392.1" width="1.1" height="4.0" fill="#158a15"/>
<rect x="244.87" y="392.1" width="1.1" height="5.7" fill="#158a15"/>
<rect x="248.92" y="392.1" width="1.1" height="7.9" fill="#158a15"/>
<rect x="252.96" y="392.1" width="1.1" height="10.7" fill="#158a15"/>
<rect x="257.01" y="392.1" width="1.1" height="12.1" fill="#158a15"/>
<rect x="261.06" y="392.1" width="1.1" height="23.6" fill="#158a15"/>
<rect x="265.11" y="392.1" width="1.1" height="34.3" fill="#158a15"/>
<rect x="269.15" y="392.1" width="1.1" height="37.9" fill="#158a15"/>
<rect x="273.20" y="392.1" width="1.1" height="34.3" fill="#158a15"/>
<rect x="277.25" y="392.1" width="1.1" height="27.9" fill="#158a15"/>
<rect x="281.29" y="392.1" width="1.1" height="25.0" fill="#158a15"/>
<rect x="285.34" y="392.1" width="1.1" height="19.7" fill="#158a15"/>
<rect x="289.39" y="392.1" width="1.1" height="13.6" fill="#158a15"/>
<rect x="293.43" y="392.1" width="1.1" height="9.3" fill="#158a15"/>
<rect x="297.48" y="392.1" width="1.1" height="2.9" fill="#158a15"/>
<rect x="301.48" y="391.6" width="1.2" height="1" fill="#1d8f1d" opacity="0.8"/>
<rect x="305.57" y="389.2" width="1.1" height="2.9" fill="#158a15"/>
<rect x="309.62" y="387.1" width="1.1" height="5.0" fill="#158a15"/>
<rect x="313.67" y="383.2" width="1.1" height="8.9" fill="#158a15"/>
<rect x="317.72" y="382.1" width="1.1" height="10.0" fill="#158a15"/>
<rect x="321.76" y="382.8" width="1.1" height="9.3" fill="#158a15"/>
<rect x="325.81" y="383.2" width="1.1" height="8.9" fill="#158a15"/>
<rect x="329.86" y="383.8" width="1.1" height="8.3" fill="#158a15"/>
<rect x="333.90" y="384.2" width="1.1" height="7.9" fill="#158a15"/>
<rect x="337.95" y="386.7" width="1.1" height="5.4" fill="#158a15"/>
<rect x="342.00" y="387.5" width="1.1" height="4.6" fill="#158a15"/>
<rect x="346.04" y="388.1" width="1.1" height="4.0" fill="#158a15"/>
<rect x="350.09" y="388.5" width="1.1" height="3.6" fill="#158a15"/>
<rect x="354.14" y="389.0" width="1.1" height="3.1" fill="#158a15"/>
<rect x="358.19" y="388.5" width="1.1" height="3.6" fill="#158a15"/>
<rect x="362.23" y="388.2" width="1.1" height="3.9" fill="#158a15"/>
<rect x="366.28" y="385.7" width="1.1" height="6.4" fill="#158a15"/>
<rect x="370.33" y="383.2" width="1.1" height="8.9" fill="#158a15"/>
<rect x="374.37" y="385.0" width="1.1" height="7.1" fill="#158a15"/>
<rect x="378.42" y="382.8" width="1.1" height="9.3" fill="#158a15"/>
<rect x="382.47" y="382.1" width="1.1" height="10.0" fill="#158a15"/>
<rect x="386.51" y="382.1" width="1.1" height="10.0" fill="#158a15"/>
<rect x="390.56" y="385.0" width="1.1" height="7.1" fill="#158a15"/>
<rect x="394.61" y="386.7" width="1.1" height="5.4" fill="#158a15"/>
<rect x="398.66" y="388.5" width="1.1" height="3.6" fill="#158a15"/>
<rect x="402.70" y="391.0" width="1.1" height="1.1" fill="#158a15"/>
<rect x="406.70" y="391.6" width="1.2" height="1" fill="#1d8f1d" opacity="0.8"/>
<rect x="410.75" y="391.6" width="1.2" height="1" fill="#1d8f1d" opacity="0.8"/>
<rect x="414.84" y="392.1" width="1.1" height="1.1" fill="#158a15"/>
<rect x="422.89" y="391.6" width="1.2" height="1" fill="#1d8f1d" opacity="0.8"/>
<rect x="435.08" y="392.1" width="1.1" height="1.7" fill="#158a15"/>
<rect x="439.13" y="392.1" width="1.1" height="3.1" fill="#158a15"/>
<rect x="443.17" y="392.1" width="1.1" height="2.9" fill="#158a15"/>
<rect x="447.22" y="392.1" width="1.1" height="3.6" fill="#158a15"/>
<rect x="451.27" y="392.1" width="1.1" height="5.7" fill="#158a15"/>
<rect x="455.31" y="392.1" width="1.1" height="8.3" fill="#158a15"/>
<rect x="459.36" y="392.1" width="1.1" height="10.7" fill="#158a15"/>
<rect x="463.41" y="392.1" width="1.1" height="9.3" fill="#158a15"/>
<rect x="467.45" y="392.1" width="1.1" height="10.0" fill="#158a15"/>
<rect x="471.50" y="392.1" width="1.1" height="8.3" fill="#158a15"/>
<rect x="475.55" y="392.1" width="1.1" height="7.1" fill="#158a15"/>
<rect x="479.60" y="392.1" width="1.1" height="2.6" fill="#158a15"/>
<rect x="483.64" y="391.0" width="1.1" height="1.1" fill="#158a15"/>
<rect x="487.69" y="387.1" width="1.1" height="5.0" fill="#158a15"/>
<rect x="491.74" y="383.5" width="1.1" height="8.6" fill="#158a15"/>
<rect x="495.78" y="380.7" width="1.1" height="11.4" fill="#158a15"/>
<rect x="499.83" y="380.7" width="1.1" height="11.4" fill="#158a15"/>
<rect x="503.88" y="385.0" width="1.1" height="7.1" fill="#158a15"/>
<rect x="507.92" y="387.5" width="1.1" height="4.6" fill="#158a15"/>
<rect x="511.97" y="389.0" width="1.1" height="3.1" fill="#158a15"/>
<rect x="520.02" y="391.6" width="1.2" height="1" fill="#1d8f1d" opacity="0.8"/>
<polyline points="1.4,383.3 7.1,384.3 14.3,387.1 28.6,392.1 42.9,395.7 57.1,399.3 71.4,403.6 85.7,407.1 95.0,410.7 103.6,414.3 113.6,416.7 123.6,420.0 132.1,422.9 137.9,423.9 144.3,422.9 152.3,421.4 156.4,420.7 162.1,417.1 169.3,412.9 175.0,409.3 180.7,406.1 186.4,402.9 190.0,401.9 197.1,399.3 204.3,397.9 211.4,396.7 218.6,396.1 227.1,396.1 235.7,396.4 241.4,397.9 247.1,400.7 252.9,405.0 258.6,410.0 262.9,417.9 267.9,427.9 272.9,438.6 277.1,447.1 282.9,455.0 288.6,460.7 294.3,464.6 301.4,465.4 308.6,462.9 315.7,458.6 322.9,454.0 330.0,450.0 337.1,446.4 342.9,444.7 348.6,442.1 357.1,440.4 365.7,437.1 372.9,432.9 380.0,429.3 382.1,426.4 389.3,422.1 396.4,420.0 403.6,419.3 417.9,419.3 432.1,419.6 442.1,420.4 449.3,422.9 456.4,427.1 463.6,430.7 470.7,435.7 476.4,437.6 483.6,437.1 489.3,435.7 496.4,430.7 502.1,426.4 507.9,424.3 513.6,422.9 519.3,423.6" fill="none" stroke="#ff2020" stroke-width="1.15" stroke-dasharray="3.2,3"/>
<polyline points="1.4,386.1 6.4,386.1 14.3,390.7 21.4,395.0 28.6,398.1 38.6,400.0 42.9,399.0 47.1,400.0 60.0,405.7 71.4,408.1 74.3,407.6 80.0,411.0 88.6,413.6 95.0,416.4 102.1,418.6 109.3,420.7 117.9,422.9 124.3,426.4 136.4,426.4 140.7,422.9 144.3,421.0 148.3,420.7 152.3,418.6 156.4,415.7 160.4,410.7 166.4,405.0 175.0,398.6 179.3,397.1 183.6,397.1 187.9,395.7 195.7,393.9 204.3,394.7 208.6,393.9 215.7,393.9 224.3,396.1 230.0,398.6 237.1,400.7 244.3,404.3 248.6,409.3 252.9,415.7 257.9,420.7 260.0,431.4 262.9,444.3 265.7,455.7 268.6,467.1 272.9,473.6 277.9,474.3 282.1,478.3 285.7,478.3 290.0,475.7 294.3,473.6 301.4,465.7 308.6,457.1 314.3,450.0 320.0,445.0 327.1,441.4 333.6,438.1 338.6,439.3 345.7,439.3 350.0,437.6 354.3,437.3 362.9,433.6 370.0,425.7 375.0,424.3 380.7,418.6 387.1,413.9 390.7,415.0 398.6,415.0 403.6,417.6 407.9,417.9 415.0,421.0 423.6,417.6 427.9,418.1 432.1,418.6 439.3,423.6 445.0,425.0 450.7,429.3 455.0,433.6 460.7,439.3 465.0,441.4 469.3,443.9 476.4,444.3 480.7,441.4 485.0,435.0 490.7,426.4 496.4,417.9 500.7,415.7 505.0,416.7 512.1,419.3 519.3,423.6" fill="none" stroke="#2a2aff" stroke-width="1.15" stroke-linejoin="round"/>
<!-- axis -->
<rect x="660" y="52.6" width="3" height="1" fill="#222"/><text x="666" y="55.7" class="ax" fill="#111">55.170</text>
<rect x="660" y="81.4" width="3" height="1" fill="#222"/><text x="666" y="84.5" class="ax" fill="#111">51.770</text>
<rect x="660" y="110.2" width="3" height="1" fill="#222"/><text x="666" y="113.3" class="ax" fill="#111">48.370</text>
<rect x="660" y="139.1" width="3" height="1" fill="#222"/><text x="666" y="142.2" class="ax" fill="#111">45.070</text>
<rect x="660" y="166.5" width="3" height="1" fill="#222"/><text x="666" y="169.6" class="ax" fill="#111">41.770</text>
<rect x="660" y="196.6" width="3" height="1" fill="#222"/><text x="666" y="199.7" class="ax" fill="#111">38.470</text>
<rect x="660" y="225.5" width="3" height="1" fill="#222"/><text x="666" y="228.6" class="ax" fill="#111">35.170</text>
<rect x="660" y="254.1" width="3" height="1" fill="#222"/><text x="666" y="257.2" class="ax" fill="#111">31.770</text>
<rect x="660" y="282.8" width="3" height="1" fill="#222"/><text x="666" y="285.9" class="ax" fill="#111">28.470</text>
<rect x="660" y="312.1" width="3" height="1" fill="#222"/><text x="666" y="315.2" class="ax" fill="#111">25.070</text>
<rect x="660" y="369.2" width="3" height="1" fill="#222"/><text x="666" y="372.3" class="ax" fill="#111">18.470</text>

<rect x="662" y="332" width="37" height="9.4" fill="#000"/><text x="666" y="340" class="ax" fill="#fff">22.305</text>
<rect x="662" y="103.4" width="37" height="9.4" fill="#ff0000"/><text x="666" y="110.6" class="ax" fill="#fff">48.693</text>
<rect x="662" y="169.0" width="37" height="9.4" fill="#ff0000"/><text x="666" y="176.2" class="ax" fill="#fff">41.033</text>
<rect x="662" y="218.3" width="37" height="9.4" fill="#ff0000"/><text x="666" y="225.5" class="ax" fill="#fff">35.320</text>
<rect x="662" y="260.0" width="37" height="9.4" fill="#ff0000"/><text x="666" y="267.2" class="ax" fill="#fff">30.493</text>
<rect x="662" y="300.5" width="37" height="9.4" fill="#ff0000"/><text x="666" y="307.7" class="ax" fill="#fff">25.760</text>
<rect x="662" y="337.7" width="37" height="9.4" fill="#ff0000"/><text x="666" y="344.9" class="ax" fill="#fff">21.489</text>

<rect x="660" y="391.6" width="3" height="1" fill="#222"/>
<text x="664" y="383.3" class="ax" fill="#111">0.8416</text>
<text x="664" y="395.4" class="ax" fill="#111">0.00</text>
<text x="664" y="481.2" class="ax" fill="#111">-4.4089</text>
<rect x="1.5" y="483" width="1" height="4" fill="#222"/><text x="1.2" y="495.2" class="ax" fill="#111">21 Feb 2020</text>
<rect x="66.8" y="483" width="1" height="4" fill="#222"/><text x="66.5" y="495.2" class="ax" fill="#111">26 Feb 04:00</text>
<rect x="131.6" y="483" width="1" height="4" fill="#222"/><text x="131.3" y="495.2" class="ax" fill="#111">28 Feb 20:00</text>
<rect x="196.4" y="483" width="1" height="4" fill="#222"/><text x="196.1" y="495.2" class="ax" fill="#111">4 Mar 08:00</text>
<rect x="261.1" y="483" width="1" height="4" fill="#222"/><text x="260.8" y="495.2" class="ax" fill="#111">8 Mar 22:01</text>
<rect x="325.9" y="483" width="1" height="4" fill="#222"/><text x="325.6" y="495.2" class="ax" fill="#111">11 Mar 12:00</text>
<rect x="390.6" y="483" width="1" height="4" fill="#222"/><text x="390.3" y="495.2" class="ax" fill="#111">15 Mar 22:01</text>
<rect x="455.4" y="483" width="1" height="4" fill="#222"/><text x="455.1" y="495.2" class="ax" fill="#111">18 Mar 12:00</text>
<rect x="520.1" y="483" width="1" height="4" fill="#222"/><text x="519.8" y="495.2" class="ax" fill="#111">23 Mar 00:00</text>

<!-- titles -->
<path d="M5 43.4 L12.2 43.4 L8.6 47.3 Z" fill="#000"/>
<text x="17.5" y="48.1" class="ax" fill="#111" style="font-size:9.4px" textLength="56.3" lengthAdjust="spacing">CrudeOIL,H4</text>
<text x="79.8" y="48.1" class="ax" fill="#111" style="font-size:9.4px" textLength="122" lengthAdjust="spacing">21.535 22.415 21.535 22.305</text>
<text x="6.4" y="385.4" class="ax" fill="#111" style="font-size:9.43px">MACD(12,26,9) -1.5386 -1.4943 -0.0443</text>
</svg>
</body></html>
